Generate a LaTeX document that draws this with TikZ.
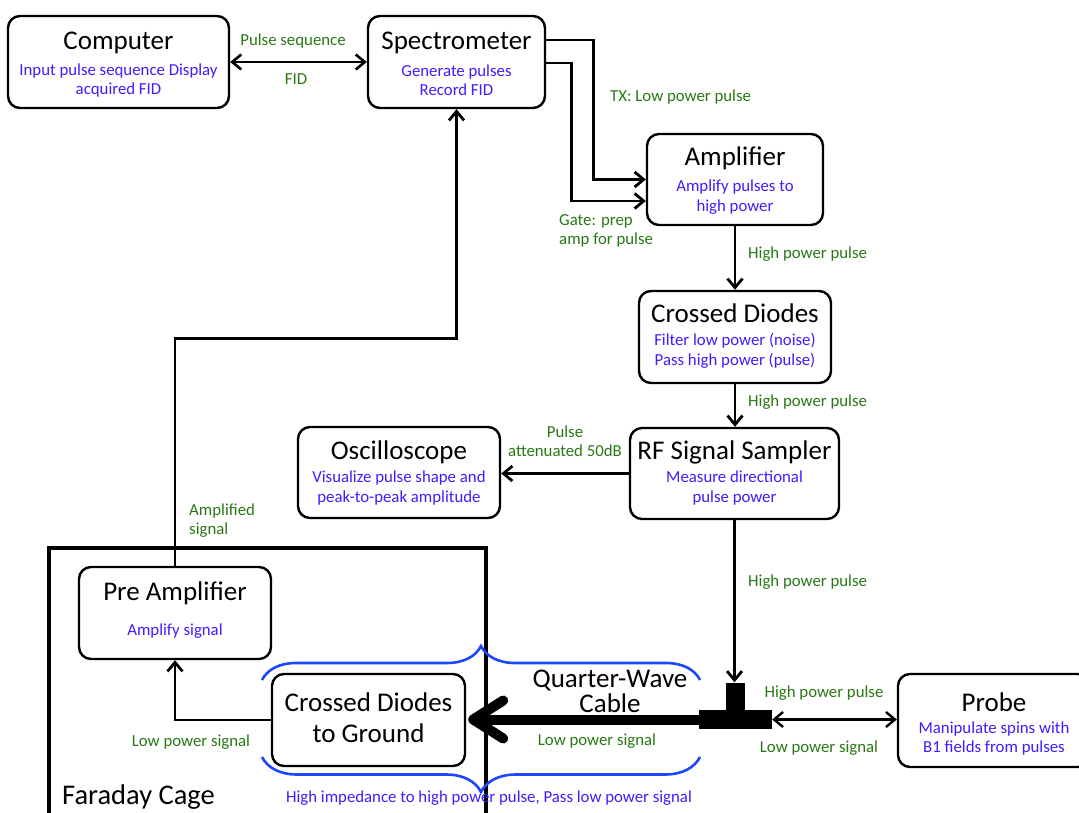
\documentclass[tikz,border=0pt]{standalone}
\usepackage{fontspec}
\setmainfont{Carlito}
\usetikzlibrary{arrows.meta,decorations.pathreplacing,calc}
\definecolor{blueT}{RGB}{60,30,255}
\definecolor{greenT}{RGB}{40,120,20}
\definecolor{braceB}{RGB}{30,70,255}
\tikzset{
  box/.style={draw, line width=2.4pt, rounded corners=12pt, fill=white, inner sep=0pt},
  ttl/.style={font=\fontsize{27}{31}\selectfont, inner sep=0pt, align=center},
  sub/.style={font=\fontsize{16.8}{19.5}\selectfont, text=blueT, align=center, inner sep=0pt},
  lbl/.style={font=\fontsize{16.8}{19}\selectfont, text=greenT, align=center, inner sep=0pt},
  conn/.style={line width=2.8pt, -{Straight Barb[length=9pt,width=15pt]}},
  dconn/.style={line width=2.6pt, {Straight Barb[length=9pt,width=15pt]}-{Straight Barb[length=9pt,width=15pt]}},
  bigarrow/.style={line width=10pt, -{Straight Barb[length=30pt,width=38pt,round]}},
  bracestyle/.style={draw=braceB, line width=2.6pt, decorate},
  tee/.style={fill=black, draw=none, inner sep=0pt},
}
\begin{document}
\begin{tikzpicture}[x=1pt,y=-1pt]
\useasboundingbox (0,0) rectangle (1079,813);
\clip (0,0) rectangle (1079,813);

% Faraday cage
\draw[line width=4.5pt] (49,840) -- (49,548) -- (486,548) -- (486,840);
\node[font=\fontsize{28.5}{32}\selectfont, anchor=west, inner sep=0pt] (cage) at (62,797) {Faraday Cage};

% braces
\draw[bracestyle, decoration={brace, amplitude=34pt}] (262,680) -- (700,680);
\draw[bracestyle, decoration={brace, amplitude=35pt}] (700,757) -- (262,757);
\node[sub, anchor=center] (hiimp) at (489,798) {High impedance to high power pulse, Pass low power signal};

% boxes
\node[box, minimum width=221pt, minimum height=92pt] (comp) at (118.5,62) {};
\node[ttl] (compt) at (118.5,43) {Computer};
\node[sub] (comps) at (118.5,80.5) {Input pulse sequence Display\\acquired FID};

\node[box, minimum width=177pt, minimum height=92pt] (spec) at (456.5,62) {};
\node[ttl] (spect) at (456.5,43) {Spectrometer};
\node[sub] (specs) at (456.5,80) {Generate pulses\\Record FID};

\node[box, minimum width=176pt, minimum height=91pt] (amp) at (735,179.5) {};
\node[ttl] (ampt) at (735,158) {Amplifier};
\node[sub] (amps) at (735,197) {Amplify pulses to\\high power};

\node[box, minimum width=192pt, minimum height=92pt] (cd) at (735,337) {};
\node[ttl] (cdt) at (735,313) {Crossed Diodes};
\node[sub] (cds) at (735,351) {Filter low power (noise)\\Pass high power (pulse)};

\node[box, minimum width=209pt, minimum height=91pt] (rf) at (734.5,473.5) {};
\node[ttl] (rft) at (734.5,452) {RF Signal Sampler};
\node[sub] (rfs) at (734.5,488) {Measure directional\\pulse power};

\node[box, minimum width=202pt, minimum height=91pt] (osc) at (399,472.5) {};
\node[ttl] (osct) at (399,452) {Oscilloscope};
\node[sub] (oscs) at (399,488) {Visualize pulse shape and\\peak-to-peak amplitude};

\node[box, minimum width=192pt, minimum height=92pt] (pre) at (175,613) {};
\node[ttl] (pret) at (175,593) {Pre Amplifier};
\node[sub] (pres) at (175,631) {Amplify signal};

\node[box, minimum width=193pt, minimum height=92pt] (cdg) at (368.5,720) {};
\node[ttl] (cdgt) at (368.5,717.5) {Crossed Diodes\\to Ground};

\node[box, minimum width=192pt, minimum height=93pt] (probe) at (994,720.5) {};
\node[ttl] (probet) at (994,702) {Probe};
\node[sub] (probes) at (994,738.5) {Manipulate spins with\\B1 fields from pulses};

% T connector
\node[tee, minimum width=19pt, minimum height=29pt] (tstem) at (735.5,697) {};
\node[tee, minimum width=73pt, minimum height=19pt] (tbar) at (735.5,719.5) {};

% connectors
\draw[dconn] (comp.east) -- (spec.west);
\node[lbl] (l1) at (293,41) {Pulse sequence};
\node[lbl] (l2) at (296,79) {FID};

\draw[conn] ([yshift=22pt]spec.east) -| ([xshift=-52pt]amp.west) -- (amp.west);
\draw[conn] ([yshift=-1pt]spec.east) -| ([xshift=-74pt,yshift=-21.5pt]amp.west) -- ([yshift=-21.5pt]amp.west);
\node[lbl, anchor=west] (l3) at (610,97) {TX: Low power pulse};
\node[lbl, anchor=west, align=left] (l4) at (559,231) {Gate: prep\\amp for pulse};

\draw[conn] (amp.south) -- (amp.south |- cd.north);
\node[lbl, anchor=west] (l5) at (748,254) {High power pulse};
\draw[conn] (cd.south) -- (cd.south |- rf.north);
\node[lbl, anchor=west] (l6) at (748,402) {High power pulse};

\draw[conn] (rf.west) -- (rf.west -| osc.east);
\node[lbl] (l7) at (565,441.5) {Pulse\\attenuated 50dB};

\draw[conn] (rf.south) -- (rf.south |- tstem.north);
\node[lbl, anchor=west] (l8) at (748,582) {High power pulse};

\draw[dconn, line width=2.4pt] (tbar.east) -- (tbar.east -| probe.west);
\node[lbl] (l9) at (824,693) {High power pulse};
\node[lbl] (l10) at (819,748) {Low power signal};

\draw[bigarrow] (tbar.west) -- ([xshift=2pt]tbar.west -| cdg.east);
\node[ttl, font=\fontsize{27}{25}\selectfont] (qw) at (610,691) {Quarter-Wave\\Cable};
\node[lbl] (l11) at (597,741) {Low power signal};

\draw[conn] (cdg.west) -| (pre.south);
\node[lbl] (l12) at (191,742) {Low power signal};

\draw[conn] (pre.north) |- ([yshift=-229pt]spec.south) -- (spec.south);
\node[lbl, anchor=west, align=left] (l13) at (189,521) {Amplified\\signal};
\end{tikzpicture}
\end{document}
